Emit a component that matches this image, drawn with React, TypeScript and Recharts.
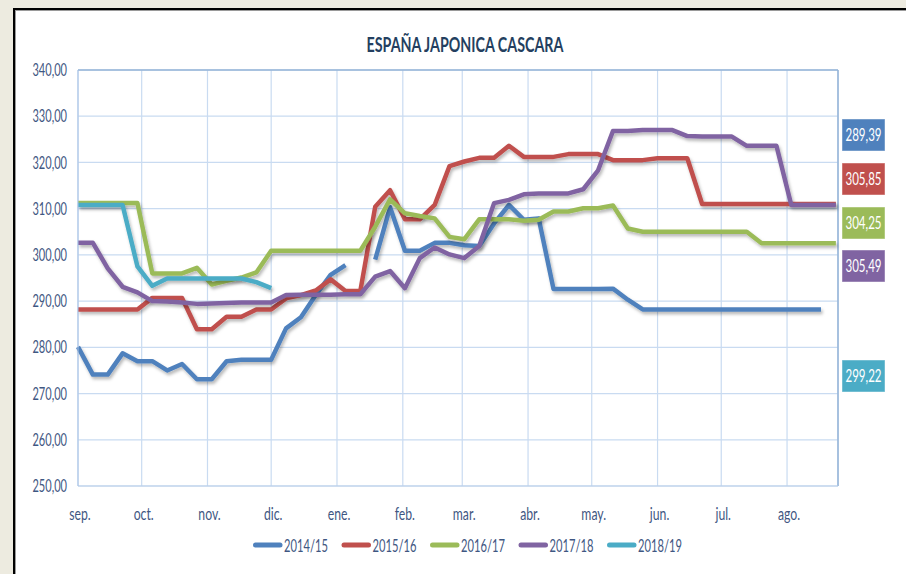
import React from 'react';
import { LineChart, Line, XAxis, YAxis, CartesianGrid, ReferenceLine } from 'recharts';

// eje X: semanas desde el 1 de septiembre, en días
const monthLabels = ['sep.', 'oct.', 'nov.', 'dic.', 'ene.', 'feb.', 'mar.', 'abr.', 'may.', 'jun.', 'jul.', 'ago.'];
const monthStartDays = [0, 30, 61, 91, 122, 153, 181, 212, 242, 273, 303, 334];
const yTicks = [250, 260, 270, 280, 290, 300, 310, 320, 330, 340];

const seriesNames = ['2014/15', '2015/16', '2016/17', '2017/18', '2018/19'];
const seriesColors = ['#4F81BD', '#C0504D', '#9BBB59', '#8064A2', '#4BACC6'];
const sideValues = ['289,39', '305,85', '304,25', '305,49', '299,22'];
const sideColors = ['#4F81BD', '#C0504D', '#9BBB59', '#8064A2', '#4BACC6'];

const s1415 = [
  280.1, 274.1, 274.1, 278.7, 277.0, 277.0, 275.0, 276.4, 273.1, 273.1,
  277.0, 277.3, 277.3, 277.3, 284.1, 286.5, 291.3, 295.7, 297.8, null,
  299.0, 310.3, 300.9, 300.9, 302.6, 302.6, 302.1, 301.9, 306.8, 310.8,
  307.6, 307.9, 292.6, 292.6, 292.6, 292.6, 292.7, 290.3, 288.2, 288.2,
  288.2, 288.2, 288.2, 288.2, 288.2, 288.2, 288.2, 288.2, 288.2, 288.2,
  288.2, null,
];
const s1516 = [
  288.2, 288.2, 288.2, 288.2, 288.2, 290.7, 290.7, 290.7, 283.9, 283.9,
  286.6, 286.6, 288.2, 288.2, 290.6, 291.3, 292.3, 294.7, 292.2, 292.2,
  310.4, 314.0, 307.7, 307.7, 310.8, 319.2, 320.2, 321.0, 321.0, 323.6,
  321.2, 321.2, 321.2, 321.8, 321.8, 321.8, 320.5, 320.5, 320.5, 320.9,
  320.9, 320.9, 311.0, 311.0, 311.0, 311.0, 311.0, 311.0, 311.0, 311.0,
  311.0, 311.0,
];
const s1617 = [
  311.2, 311.2, 311.2, 311.2, 311.2, 296.0, 296.0, 296.0, 297.2, 293.6,
  294.4, 295.1, 296.2, 300.9, 300.9, 300.9, 300.9, 300.9, 300.9, 300.9,
  306.1, 312.0, 309.0, 308.4, 307.9, 303.9, 303.4, 307.7, 307.7, 307.7,
  307.4, 307.6, 309.4, 309.4, 310.1, 310.1, 310.7, 305.7, 305.0, 305.0,
  305.0, 305.0, 305.0, 305.0, 305.0, 305.0, 302.5, 302.5, 302.5, 302.5,
  302.5, 302.5,
];
const s1718 = [
  302.6, 302.6, 297.1, 293.1, 291.9, 290.0, 289.9, 289.7, 289.4, 289.5,
  289.6, 289.7, 289.7, 289.7, 291.3, 291.4, 291.4, 291.4, 291.5, 291.5,
  295.3, 296.5, 292.8, 299.3, 301.6, 300.1, 299.3, 301.9, 311.2, 311.9,
  313.1, 313.3, 313.3, 313.3, 314.2, 318.3, 326.8, 326.8, 327.0, 327.0,
  327.0, 325.7, 325.6, 325.6, 325.6, 323.6, 323.6, 323.6, 310.8, 310.8,
  310.8, 310.8,
];
const s1819 = [
  310.8, 310.8, 310.8, 310.8, 297.5, 293.3, 294.9, 294.9, 294.9, 294.9,
  294.9, 294.9, 294.1, 292.8,
];

const seriesValues = [s1415, s1516, s1617, s1718, s1819];
const seriesKeys = ['a', 'b', 'c', 'd', 'e'];

const chartData = s1516.map((_, i) => {
  const row: Record<string, number | null> = { day: i * 7 };
  seriesKeys.forEach((k, j) => {
    const v = seriesValues[j][i];
    row[k] = v === undefined ? null : v;
  });
  return row;
});

const FONT = 'Lato, "Open Sans", sans-serif';
const TEXT = '#3F5782';

const YTick = (props: any) => {
  const { x, y, payload } = props;
  return (
    <g transform={`translate(${x},${y}) scale(0.65,1)`}>
      <text textAnchor="end" dy="0.36em" fill={TEXT} fontSize={17} fontFamily={FONT}>
        {payload.value.toFixed(2).replace('.', ',')}
      </text>
    </g>
  );
};

const XTick = (props: any) => {
  const { x, y, payload } = props;
  const idx = monthStartDays.indexOf(payload.value);
  return (
    <g transform={`translate(${x + 2},${y + 26}) scale(0.72,1)`}>
      <text textAnchor="middle" fill={TEXT} fontSize={17} fontFamily={FONT}>
        {monthLabels[idx]}
      </text>
    </g>
  );
};

const sideTops = [119, 163, 207, 250, 360];

export default function App() {
  return (
    <div style={{ position: 'absolute', left: 0, top: 0, width: 906, height: 574, background: '#EDEBE0', overflow: 'hidden' }}>
      <div
        style={{
          position: 'absolute',
          left: 13,
          top: 8,
          width: 960,
          height: 640,
          background: '#FFFFFF',
          border: '2px solid #000000',
          boxShadow: 'inset 1px 1px 0 #9A9A9A',
        }}
      />
      <div style={{ position: 'absolute', left: 0, top: 0 }}>
        <LineChart width={906} height={574} data={chartData} margin={{ top: 70, right: 68, bottom: 58, left: 0 }}>
          <defs>
            <filter id="lineShadow" x="-5%" y="-5%" width="110%" height="120%">
              <feDropShadow dx="1.5" dy="2.5" stdDeviation="1.5" floodColor="#000" floodOpacity="0.28" />
            </filter>
          </defs>
          <CartesianGrid stroke="#C9DBF1" strokeWidth={1.2} />
          <XAxis
            type="number"
            dataKey="day"
            domain={[0, 358]}
            ticks={monthStartDays}
            interval={0}
            height={30}
            tick={<XTick />}
            tickLine={false}
            axisLine={{ stroke: '#B7CDE8' }}
          />
          <YAxis
            domain={[250, 340]}
            ticks={yTicks}
            interval={0}
            width={78}
            tick={<YTick />}
            tickLine={false}
            tickMargin={5}
            axisLine={{ stroke: '#A9C3E6' }}
          />
          <ReferenceLine y={340} stroke="#95B3D7" strokeWidth={1.5} />
          <ReferenceLine x={358} stroke="#95B3D7" strokeWidth={1.5} />
          {seriesKeys.map((k, j) => (
            <Line
              key={k}
              type="linear"
              dataKey={k}
              name={seriesNames[j]}
              stroke={seriesColors[j]}
              strokeWidth={4.5}
              strokeLinejoin="round"
              dot={false}
              activeDot={false}
              connectNulls={false}
              isAnimationActive={false}
              filter="url(#lineShadow)"
            />
          ))}
        </LineChart>
      </div>
      <svg width={906} height={574} style={{ position: 'absolute', left: 0, top: 0, pointerEvents: 'none' }}>
        <g transform="translate(465,52) scale(0.68,1)">
          <text textAnchor="middle" fill="#243F60" fontSize={21} fontWeight="bold" fontFamily={FONT}>
            ESPAÑA JAPONICA CASCARA
          </text>
        </g>
        {seriesNames.map((n, i) => {
          const x0 = 253 + i * 88.5;
          return (
            <g key={n}>
              <line x1={x0 + 2.5} x2={x0 + 27} y1={545} y2={545} stroke={seriesColors[i]} strokeWidth={5} strokeLinecap="round" />
              <g transform={`translate(${x0 + 31},552) scale(0.62,1)`}>
                <text fill={TEXT} fontSize={18} fontFamily={FONT}>{n}</text>
              </g>
            </g>
          );
        })}
        {sideValues.map((v, i) => (
          <g key={v}>
            <rect x={842} y={sideTops[i]} width={43} height={32} fill={sideColors[i]} stroke="rgba(255,255,255,0.45)" strokeWidth={1} />
            <g transform={`translate(863.5,${sideTops[i] + 22}) scale(0.7,1)`}>
              <text textAnchor="middle" fill="#FFFFFF" fontSize={16.5} fontFamily={FONT}>{v}</text>
            </g>
          </g>
        ))}
      </svg>
    </div>
  );
}
